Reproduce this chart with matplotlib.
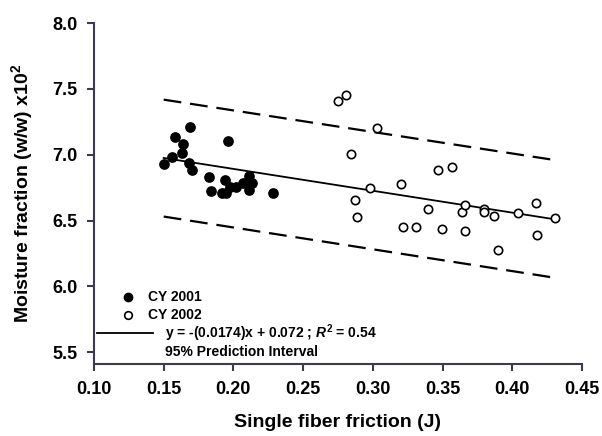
import matplotlib
matplotlib.use("Agg")
import matplotlib.pyplot as plt

# CY 2001 (filled) and CY 2002 (open) observations
x_2001 = [0.150, 0.156, 0.158, 0.163, 0.164, 0.168, 0.169, 0.1705, 0.1825, 0.1837,
          0.192, 0.194, 0.1947, 0.196, 0.1976, 0.2019, 0.207, 0.211, 0.2114, 0.2131, 0.2286]
y_2001 = [6.926, 6.984, 7.136, 7.014, 7.078, 6.938, 7.207, 6.883, 6.832, 6.726,
          6.706, 6.807, 6.706, 7.103, 6.752, 6.756, 6.782, 6.731, 6.837, 6.786, 6.706]

x_2002 = [0.275, 0.281, 0.2841, 0.2872, 0.2889, 0.298, 0.3032, 0.320, 0.3219, 0.331,
          0.3398, 0.347, 0.3499, 0.357, 0.3638, 0.3659, 0.3661, 0.3799, 0.3799, 0.3871,
          0.3897, 0.404, 0.417, 0.418, 0.431]
y_2002 = [7.41, 7.45, 7.005, 6.655, 6.524, 6.744, 7.204, 6.775, 6.452, 6.452,
          6.584, 6.883, 6.432, 6.903, 6.562, 6.419, 6.617, 6.587, 6.568, 6.533,
          6.275, 6.554, 6.63, 6.39, 6.52]

# regression line and 95% prediction interval (end points)
line_x = [0.15, 0.43]
fit_y = [6.975, 6.510]
upper_y = [7.418, 6.960]
lower_y = [6.530, 6.066]

x_ticks = [0.10, 0.15, 0.20, 0.25, 0.30, 0.35, 0.40, 0.45]
y_ticks = [5.5, 6.0, 6.5, 7.0, 7.5, 8.0]

plt.rcParams["font.family"] = ["Liberation Sans", "DejaVu Sans"]
plt.rcParams["font.weight"] = "bold"
plt.rcParams["mathtext.fontset"] = "custom"
plt.rcParams["mathtext.rm"] = "Liberation Sans:bold"
plt.rcParams["mathtext.it"] = "Liberation Sans:italic:bold"
plt.rcParams["mathtext.bf"] = "Liberation Sans:bold"

AXIS_COLOR = "#3c3c4c"

fig = plt.figure(figsize=(6.02, 4.36), dpi=100)
ax = fig.add_axes([0.1561, 0.1651, 0.8106, 0.7821])

ax.plot(line_x, fit_y, color="black", linewidth=1.3, zorder=2)
ax.plot(line_x, upper_y, color="black", linewidth=1.6, dashes=(8, 4), zorder=2)
ax.plot(line_x, lower_y, color="black", linewidth=1.6, dashes=(8, 4), zorder=2)

ax.plot(x_2001, y_2001, "o", color="black", markersize=6.7, zorder=3)
ax.plot(x_2002, y_2002, "o", markerfacecolor="white", markeredgecolor="black",
        markeredgewidth=1.2, markersize=6.0, zorder=3)

ax.set_xlim(0.10, 0.45)
ax.set_ylim(5.41, 8.0)
ax.set_xticks(x_ticks)
ax.set_yticks(y_ticks)
ax.set_xticklabels([f"{t:.2f}" for t in x_ticks])
ax.set_yticklabels([f"{t:.1f}" for t in y_ticks])
ax.tick_params(direction="out", length=5, width=1.5, color=AXIS_COLOR,
               labelsize=13, pad=7)

for side in ("top", "right"):
    ax.spines[side].set_visible(False)
for side in ("left", "bottom"):
    ax.spines[side].set_color(AXIS_COLOR)
    ax.spines[side].set_linewidth(1.5)

ax.set_xlabel("Single fiber friction (J)", fontsize=14, fontweight="bold", labelpad=12)
ax.set_ylabel("Moisture fraction (w/w) x10$^2$", fontsize=14, fontweight="bold", labelpad=12)

# hand-built legend, lower left
tr = ax.transAxes
ax.plot([0.0697], [0.1977], "o", color="black", markersize=6.0, transform=tr, clip_on=False)
ax.plot([0.0697], [0.1437], "o", markerfacecolor="white", markeredgecolor="black",
        markeredgewidth=1.2, markersize=5.5, transform=tr, clip_on=False)
ax.plot([0.006, 0.121], [0.090, 0.090], color="black", linewidth=1.3, transform=tr)
ax.text(0.111, 0.1977, "CY 2001", transform=tr, fontsize=10, va="center")
ax.text(0.111, 0.1437, "CY 2002", transform=tr, fontsize=10, va="center")
ax.text(0.1455, 0.090, "y = -(0.0174)x + 0.072 ; $R^{2}$ = 0.54", transform=tr,
        fontsize=10, va="center")
ax.text(0.1455, 0.036, "95% Prediction Interval", transform=tr, fontsize=10, va="center")

fig.savefig("out.png", dpi=100)
